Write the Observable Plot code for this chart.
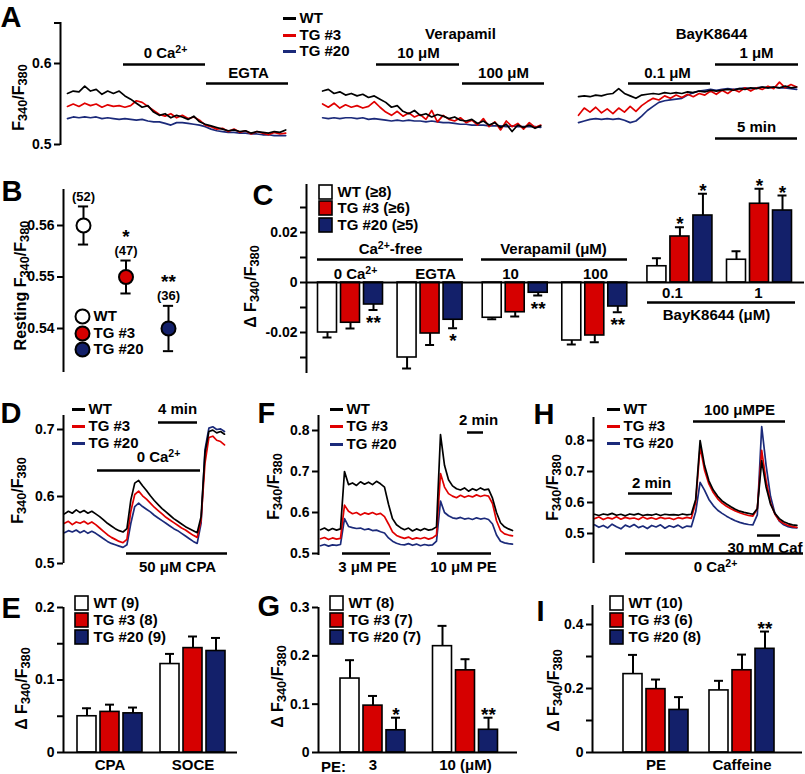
<!DOCTYPE html>
<html>
<head>
<meta charset="utf-8">
<script src="https://cdn.jsdelivr.net/npm/d3@7"></script>
<script src="https://cdn.jsdelivr.net/npm/@observablehq/plot@0.6"></script>
<style>
  html, body { margin: 0; padding: 0; background: #fff; }
  #fig { position: relative; width: 805px; height: 774px; overflow: hidden; background: #fff; }
  #fig svg { position: absolute; left: 0; top: 0; }
</style>
</head>
<body>
<div id="fig"></div>
<script>
// ======================= DATA =======================
const series = ["WT", "TG #3", "TG #20"];

// Panel A: resting F340/F380 traces, one sample every 0.35 min
const aStep = 0.35;
const aCaFreeWT   = [0.563,0.566,0.565,0.572,0.566,0.568,0.562,0.566,0.563,0.566, 0.560,0.556,0.551,0.546,0.548,0.540,0.536,0.538,0.533,0.536, 0.534,0.531,0.535,0.528,0.525,0.523,0.521,0.519,0.517,0.518, 0.516,0.517,0.514,0.516,0.515,0.514,0.516,0.515,0.518];
const aCaFreeTG3  = [0.547,0.550,0.547,0.551,0.548,0.550,0.546,0.549,0.547,0.548, 0.546,0.548,0.554,0.552,0.547,0.542,0.537,0.535,0.538,0.533, 0.536,0.532,0.534,0.530,0.524,0.522,0.519,0.520,0.516,0.519, 0.515,0.517,0.513,0.516,0.514,0.512,0.515,0.513,0.514];
const aCaFreeTG20 = [0.532,0.534,0.533,0.534,0.533,0.534,0.532,0.533,0.532,0.531, 0.532,0.531,0.530,0.531,0.529,0.528,0.528,0.526,0.524,0.527, 0.527,0.526,0.525,0.524,0.522,0.519,0.517,0.516,0.515,0.515, 0.514,0.514,0.513,0.513,0.512,0.512,0.511,0.511,0.511];
const aVerapWT    = [0.566,0.568,0.563,0.565,0.561,0.563,0.560,0.562,0.558,0.560, 0.556,0.552,0.546,0.548,0.541,0.538,0.542,0.536,0.538,0.534, 0.537,0.535,0.532,0.534,0.530,0.529,0.531,0.526,0.529,0.524, 0.527,0.521,0.525,0.516,0.524,0.521,0.524,0.520,0.523];
const aVerapTG3   = [0.550,0.546,0.551,0.545,0.549,0.546,0.548,0.545,0.547,0.553, 0.546,0.540,0.536,0.541,0.535,0.539,0.534,0.537,0.531,0.542, 0.528,0.536,0.531,0.529,0.533,0.527,0.530,0.524,0.532,0.522, 0.528,0.518,0.529,0.522,0.526,0.519,0.527,0.521,0.524];
const aVerapTG20  = [0.533,0.532,0.533,0.532,0.533,0.533,0.532,0.533,0.531,0.532, 0.531,0.530,0.529,0.530,0.529,0.530,0.529,0.529,0.528,0.529, 0.528,0.527,0.527,0.526,0.525,0.525,0.524,0.524,0.524,0.523, 0.523,0.523,0.522,0.523,0.522,0.522,0.522,0.522,0.521];
const aBayKWT     = [0.559,0.560,0.559,0.561,0.560,0.562,0.563,0.569,0.563,0.560, 0.557,0.561,0.562,0.563,0.562,0.564,0.563,0.564,0.563,0.565, 0.564,0.566,0.565,0.567,0.566,0.567,0.568,0.567,0.569,0.568, 0.570,0.569,0.571,0.570,0.571,0.570,0.572,0.570,0.571];
const aBayKTG3    = [0.536,0.545,0.540,0.546,0.539,0.544,0.538,0.545,0.540,0.547, 0.541,0.548,0.553,0.557,0.555,0.560,0.557,0.561,0.558,0.562, 0.559,0.563,0.561,0.566,0.562,0.567,0.563,0.568,0.565,0.570, 0.566,0.570,0.568,0.572,0.569,0.577,0.570,0.574,0.571];
const aBayKTG20   = [0.527,0.529,0.531,0.532,0.531,0.532,0.531,0.532,0.530,0.527, 0.529,0.535,0.542,0.547,0.552,0.554,0.555,0.556,0.557,0.561, 0.564,0.566,0.567,0.568,0.567,0.568,0.569,0.568,0.569,0.570, 0.569,0.570,0.571,0.570,0.571,0.570,0.570,0.569,0.568];

// Panel B: resting ratio, mean ± SEM
const bMean = [0.560, 0.550, 0.540];
const bSem  = [0.0037, 0.0032, 0.0044];
const bN    = ["(52)", "(47)", "(36)"];
const bSig  = ["", "*", "**"];

// Panel C: ΔF340/F380 by condition
const cConditions = ["0 Ca²⁺", "EGTA", "10", "100", "0.1", "1"];
const cWT      = [-0.0200, -0.0300, -0.0141, -0.0232, 0.0065, 0.0091];
const cWTsem   = [ 0.0020,  0.0044,  0.0006,  0.0016, 0.0032, 0.0034];
const cTG3     = [-0.0161, -0.0204, -0.0119, -0.0212, 0.0184, 0.0315];
const cTG3sem  = [ 0.0023,  0.0046,  0.0017,  0.0027, 0.0037, 0.0060];
const cTG20    = [-0.0088, -0.0149, -0.0041, -0.0096, 0.0268, 0.0288];
const cTG20sem = [ 0.0022,  0.0034,  0.0011,  0.0023, 0.0087, 0.0060];
const cTG3sig  = ["", "", "", "", "*", "*"];
const cTG20sig = ["**", "*", "**", "**", "*", "*"];

// Panel D: CPA / SOCE traces, one sample every 0.4 min
const dStep = 0.4;
const dWT   = [0.574,0.578,0.575,0.580,0.576,0.579,0.575,0.578,0.574,0.570,0.565,0.560,0.556,0.552,0.549,0.547,0.552,0.595,0.620,0.624,0.616,0.609,0.601,0.594,0.588,0.582,0.577,0.572,0.567,0.563,0.559,0.555,0.552,0.549,0.546,0.570,0.665,0.697,0.699,0.695,0.697,0.693];
const dTG3  = [0.560,0.563,0.558,0.562,0.560,0.563,0.559,0.562,0.558,0.553,0.548,0.543,0.539,0.536,0.533,0.531,0.536,0.578,0.603,0.608,0.601,0.596,0.590,0.584,0.579,0.574,0.569,0.565,0.561,0.557,0.553,0.550,0.546,0.542,0.539,0.565,0.650,0.688,0.690,0.684,0.682,0.677];
const dTG20 = [0.546,0.549,0.547,0.550,0.546,0.549,0.545,0.548,0.545,0.541,0.537,0.533,0.530,0.528,0.526,0.524,0.528,0.560,0.585,0.590,0.585,0.581,0.577,0.572,0.568,0.564,0.560,0.556,0.552,0.549,0.545,0.541,0.537,0.533,0.530,0.560,0.670,0.702,0.704,0.700,0.701,0.697];

// Panel E: ΔF340/F380 for CPA and SOCE
const eGroups  = ["CPA", "SOCE"];
const eWT      = [0.050, 0.122], eWTsem  = [0.011, 0.014];
const eTG3     = [0.056, 0.144], eTG3sem = [0.010, 0.016];
const eTG20    = [0.054, 0.140], eTG20sem= [0.008, 0.018];
const eLegend  = ["WT (9)", "TG #3 (8)", "TG #20 (9)"];

// Panel F: PE traces, one sample every 0.5 min
const fStep = 0.5;
const fWT   = [0.558,0.562,0.556,0.561,0.557,0.560, 0.700,0.668,0.672,0.666,0.675,0.669,0.674,0.668,0.676,0.670, 0.662,0.620,0.585,0.570,0.563, 0.558,0.562,0.555,0.560,0.556,0.561,0.557,0.559, 0.565, 0.790,0.715,0.680,0.665,0.658,0.655,0.660,0.652,0.658,0.654,0.660,0.655,0.657, 0.635,0.600,0.575,0.565,0.560,0.556];
const fTG3  = [0.536,0.539,0.534,0.538,0.535,0.537, 0.618,0.603,0.597,0.600,0.594,0.599,0.596,0.600,0.595,0.598, 0.590,0.572,0.553,0.544,0.540, 0.537,0.540,0.535,0.538,0.536,0.539,0.535,0.538, 0.545, 0.695,0.662,0.646,0.640,0.636,0.642,0.637,0.641,0.638,0.643,0.639,0.642,0.640, 0.622,0.580,0.556,0.548,0.545,0.543];
const fTG20 = [0.519,0.522,0.518,0.521,0.520,0.522, 0.585,0.566,0.563,0.561,0.562,0.558,0.560,0.556,0.557,0.553, 0.550,0.538,0.530,0.525,0.522, 0.521,0.524,0.520,0.523,0.519,0.522,0.520,0.521, 0.530, 0.628,0.600,0.592,0.587,0.585,0.588,0.584,0.586,0.583,0.587,0.584,0.586,0.583, 0.572,0.545,0.530,0.526,0.524,0.523];

// Panel G: ΔF340/F380 for PE 3 and 10 µM
const gGroups = ["3", "10 (μM)"];
const gWT   = [0.153, 0.220], gWTsem   = [0.038, 0.042];
const gTG3  = [0.097, 0.170], gTG3sem  = [0.020, 0.023];
const gTG20 = [0.046, 0.047], gTG20sem = [0.026, 0.025];
const gTG20sig = ["*", "**"];
const gLegend = ["WT (8)", "TG #3 (7)", "TG #20 (7)"];

// Panel H: PE / caffeine in 0 Ca2+, one sample every 0.2 min
const hStep = 0.2;
const hWT   = [0.562,0.558,0.563,0.560,0.565,0.559,0.562,0.557,0.563,0.560,0.564,0.558,0.561,0.559,0.563,0.558,0.562,0.560,0.561,0.559,0.563,0.560,0.562, 0.610, 0.800,0.720,0.670,0.640,0.620,0.605,0.595,0.586,0.578,0.572,0.568,0.565,0.562, 0.580, 0.735,0.650,0.595,0.565,0.548,0.538,0.532,0.528,0.526];
const hTG3  = [0.548,0.553,0.545,0.551,0.547,0.554,0.546,0.552,0.548,0.550,0.545,0.553,0.547,0.551,0.546,0.552,0.548,0.550,0.545,0.551,0.548,0.552,0.549, 0.600, 0.780,0.705,0.660,0.632,0.612,0.598,0.588,0.580,0.573,0.567,0.562,0.558,0.556, 0.580, 0.768,0.670,0.600,0.562,0.542,0.532,0.526,0.522,0.520];
const hTG20 = [0.528,0.520,0.526,0.518,0.530,0.522,0.515,0.527,0.521,0.529,0.519,0.524,0.516,0.526,0.521,0.528,0.517,0.525,0.520,0.527,0.518,0.524,0.522, 0.570, 0.665,0.640,0.610,0.590,0.575,0.565,0.556,0.548,0.541,0.536,0.532,0.529,0.528, 0.560, 0.845,0.720,0.620,0.565,0.540,0.528,0.522,0.519,0.518];

// Panel I: ΔF340/F380 for PE and caffeine
const iGroups = ["PE", "Caffeine"];
const iWT   = [0.245, 0.194], iWTsem   = [0.060, 0.030];
const iTG3  = [0.198, 0.257], iTG3sem  = [0.030, 0.049];
const iTG20 = [0.133, 0.324], iTG20sem = [0.040, 0.054];
const iTG20sig = ["", "**"];
const iLegend = ["WT (10)", "TG #3 (6)", "TG #20 (8)"];

// ======================= STYLE / LAYOUT =======================
const W = 805, H = 774;
const FONT = "'Liberation Sans', Arial, Helvetica, sans-serif";
const STYLE = {background: "transparent", fontFamily: FONT, fontWeight: "bold", fontSize: "14px", color: "#000", overflow: "visible"};
const INK = "#000";
const LINES = ["#000000", "#e00000", "#1b2a7a"];
const FILLS = ["#ffffff", "#d60000", "#13206a"];

// axis frames (page pixels)
const FR = {
  A: {l: 60,  t: 22,  r: 797, b: 145},
  B: {l: 63,  t: 189, r: 190, b: 372},
  C: {l: 306, t: 184, r: 804, b: 373},
  D: {l: 63,  t: 415, r: 230, b: 563},
  F: {l: 318, t: 415, r: 517, b: 555},
  H: {l: 593, t: 417, r: 800, b: 563},
  E: {l: 63,  t: 607, r: 237, b: 752},
  G: {l: 318, t: 607, r: 517, b: 752},
  I: {l: 592, t: 605, r: 802, b: 752}
};

function panel(f, x, y, marks) {
  return Plot.plot({
    width: W, height: H,
    marginLeft: f.l, marginTop: f.t, marginRight: W - f.r, marginBottom: H - f.b,
    x, y, color: {type: "identity"}, marks, style: STYLE
  });
}
const fmt = d => d === 0 ? "0" : String(+d.toFixed(4));
function yAxis(major, minor = []) {
  const m = [Plot.axisY(major, {tickSize: 6, tickPadding: 3, strokeWidth: 2, tickFormat: fmt, label: null, fontSize: 14})];
  if (minor.length) m.push(Plot.axisY(minor, {tickSize: 6, strokeWidth: 2, tickFormat: () => "", label: null}));
  return m;
}
function trace(vals, step, offset, color) {
  return Plot.line(vals.map((v, i) => ({t: offset + i * step, v})),
    {x: "t", y: "v", stroke: color, strokeWidth: 1.7, strokeLinejoin: "round"});
}
function bars(means, sems, sigs, gpos, pxPerUnit, geom) {
  const step = geom.step / pxPerUnit, w = geom.width / pxPerUnit, cap = geom.cap / pxPerUnit;
  const rows = [];
  means.forEach((arr, s) => arr.forEach((v, i) => {
    const xc = gpos(i) + (s - 1) * step, sign = v >= 0 ? 1 : -1;
    rows.push({xc, v, end: v + sign * sems[s][i], sign, fill: FILLS[s], sig: sigs[s][i]});
  }));
  return [
    Plot.ruleX(rows, {x: "xc", y1: "v", y2: "end", stroke: INK, strokeWidth: 2}),
    Plot.ruleY(rows, {y: "end", x1: d => d.xc - cap / 2, x2: d => d.xc + cap / 2, stroke: INK, strokeWidth: 2}),
    Plot.rectY(rows, {x1: d => d.xc - w / 2, x2: d => d.xc + w / 2, y1: 0, y2: "v", fill: "fill", stroke: INK, strokeWidth: 1.6}),
    Plot.text(rows.filter(d => d.sig && d.sign > 0), {x: "xc", y: "end", text: "sig", dy: -3, fontSize: 19}),
    Plot.text(rows.filter(d => d.sig && d.sign < 0), {x: "xc", y: "end", text: "sig", dy: 13, fontSize: 19})
  ];
}
const none = ["", "", "", "", "", ""];

// ---------- Panel A ----------
const aOffsets = [0, 15.55, 31.15];
const aSegs = [[aCaFreeWT, aCaFreeTG3, aCaFreeTG20], [aVerapWT, aVerapTG3, aVerapTG20], [aBayKWT, aBayKTG3, aBayKTG20]];
const plotA = panel(FR.A,
  {domain: [0, 44.5], range: [67, 797], axis: null},
  {domain: [0.5, 0.6], range: [144, 63]},
  [
    ...yAxis([0.5, 0.6], [0.65]),
    ...aSegs.flatMap((seg, k) => [2, 1, 0].map(s => trace(seg[s], aStep, aOffsets[k], LINES[s])))
  ]);

// ---------- Panel B ----------
const bRows = bMean.map((m, i) => ({i, m, lo: m - bSem[i], hi: m + bSem[i], n: bN[i], sig: bSig[i], fill: FILLS[i]}));
const plotB = panel(FR.B,
  {domain: [0, 2], range: [83, 168], axis: null},
  {domain: [0.54, 0.56], range: [328, 225]},
  [
    ...yAxis([0.54, 0.55, 0.56]),
    Plot.ruleX(bRows, {x: "i", y1: "lo", y2: "hi", stroke: INK, strokeWidth: 2}),
    Plot.ruleY(bRows, {y: "lo", x1: d => d.i - 0.12, x2: d => d.i + 0.12, stroke: INK, strokeWidth: 2}),
    Plot.ruleY(bRows, {y: "hi", x1: d => d.i - 0.12, x2: d => d.i + 0.12, stroke: INK, strokeWidth: 2}),
    Plot.dot(bRows, {x: "i", y: "m", r: 7, fill: "fill", stroke: INK, strokeWidth: 2}),
    Plot.text(bRows, {x: "i", y: "hi", text: "n", dy: -10, fontSize: 13}),
    Plot.text(bRows.filter(d => d.sig), {x: "i", y: "hi", text: "sig", dy: -24, fontSize: 19})
  ]);

// ---------- Panel C ----------
const cGpos = i => i + Math.floor(i / 2) * 0.07;
const cPx = (759 - 350) / 5.14;
const plotC = panel(FR.C,
  {domain: [0, 5.14], range: [350, 759], axis: null},
  {domain: [0, 0.02], range: [282, 232]},
  [
    ...yAxis([-0.02, 0, 0.02], [-0.03, -0.01, 0.01, 0.03]),
    ...bars([cWT, cTG3, cTG20], [cWTsem, cTG3sem, cTG20sem], [none, cTG3sig, cTG20sig], cGpos, cPx, {step: 23, width: 19, cap: 9}),
    Plot.ruleY([0], {stroke: INK, strokeWidth: 2})
  ]);

// ---------- Panels D, F, H (traces) ----------
const plotD = panel(FR.D,
  {domain: [0, 16.4], range: [64, 224], axis: null},
  {domain: [0.5, 0.7], range: [563, 429]},
  [...yAxis([0.5, 0.6, 0.7]), ...[[dTG20, 2], [dTG3, 1], [dWT, 0]].map(([v, s]) => trace(v, dStep, 0, LINES[s]))]);
const plotF = panel(FR.F,
  {domain: [0, 24], range: [320, 512], axis: null},
  {domain: [0.5, 0.8], range: [553, 430]},
  [...yAxis([0.5, 0.6, 0.7, 0.8]), ...[[fTG20, 2], [fTG3, 1], [fWT, 0]].map(([v, s]) => trace(v, fStep, 0, LINES[s]))]);
const plotH = panel(FR.H,
  {domain: [0, 9.2], range: [594, 796.4], axis: null},
  {domain: [0.5, 0.8], range: [533, 440]},
  [...yAxis([0.5, 0.6, 0.7, 0.8]), ...[[hTG20, 2], [hTG3, 1], [hWT, 0]].map(([v, s]) => trace(v, hStep, 0, LINES[s]))]);

// ---------- Panels E, G, I (bars) ----------
function barPanel(f, xr, yDom, yRng, groups, means, sems, sigs, major, minor) {
  return panel(f, {domain: [0, 1], range: xr}, {domain: yDom, range: yRng}, [
    ...yAxis(major, minor),
    Plot.axisX([0, 1], {tickSize: 0, tickPadding: 7, tickFormat: i => groups[i], label: null, fontSize: 15}),
    ...bars(means, sems, sigs, i => i, xr[1] - xr[0], {step: 23, width: 19, cap: 9}),
    Plot.ruleY([0], {stroke: INK, strokeWidth: 2})
  ]);
}
const plotE = barPanel(FR.E, [109.5, 192.5], [0, 0.2], [752, 607], eGroups,
  [eWT, eTG3, eTG20], [eWTsem, eTG3sem, eTG20sem], [none, none, none], [0, 0.1, 0.2], [0.05, 0.15]);
const plotG = barPanel(FR.G, [372.5, 465], [0, 0.3], [752, 607], gGroups,
  [gWT, gTG3, gTG20], [gWTsem, gTG3sem, gTG20sem], [none, none, gTG20sig], [0, 0.1, 0.2, 0.3], []);
const plotI = barPanel(FR.I, [655.5, 741.5], [0, 0.4], [752, 624], iGroups,
  [iWT, iTG3, iTG20], [iWTsem, iTG3sem, iTG20sem], [none, none, iTG20sig], [0, 0.2, 0.4], [0.1, 0.3]);

// ---------- Annotation overlay (page pixel coordinates) ----------
const letters = [
  {x: 0, y: 6, t: "A"}, {x: 1, y: 180, t: "B"}, {x: 252, y: 184, t: "C"},
  {x: 0, y: 402, t: "D"}, {x: 257, y: 402, t: "F"}, {x: 533, y: 403, t: "H"},
  {x: 1, y: 597, t: "E"}, {x: 257, y: 595, t: "G"}, {x: 536, y: 600, t: "I"}
];
const yLabels = [
  {x: 18, y: 97, t: "F_{340}/F_{380}"}, {x: 20, y: 285, t: "Resting F_{340}/F_{380}"},
  {x: 250, y: 286, t: "Δ F_{340}/F_{380}"}, {x: 17, y: 490, t: "F_{340}/F_{380}"},
  {x: 273, y: 486, t: "F_{340}/F_{380}"}, {x: 552, y: 487, t: "F_{340}/F_{380}"},
  {x: 21, y: 688, t: "Δ F_{340}/F_{380}"}, {x: 277, y: 686, t: "Δ F_{340}/F_{380}"},
  {x: 553, y: 690, t: "Δ F_{340}/F_{380}"}
];
const centerLabels = [
  {x: 165, y: 53, t: "0 Ca^{2+}"}, {x: 248, y: 73, t: "EGTA"}, {x: 460, y: 34, t: "Verapamil"},
  {x: 418, y: 53, t: "10 μM"}, {x: 503, y: 73, t: "100 μM"}, {x: 711, y: 34, t: "BayK8644"},
  {x: 667, y: 73, t: "0.1 μM"}, {x: 756, y: 53, t: "1 μM"}, {x: 756, y: 127, t: "5 min"},
  {x: 390, y: 249, t: "Ca^{2+}-free"}, {x: 355, y: 274, t: "0 Ca^{2+}"}, {x: 435, y: 274, t: "EGTA"},
  {x: 553, y: 249, t: "Verapamil (μM)"}, {x: 510, y: 274, t: "10"}, {x: 595, y: 274, t: "100"},
  {x: 672, y: 293, t: "0.1"}, {x: 758, y: 293, t: "1"}, {x: 716, y: 315, t: "BayK8644 (μM)"},
  {x: 177, y: 409, t: "4 min"}, {x: 158, y: 457, t: "0 Ca^{2+}"}, {x: 177, y: 567, t: "50 μM CPA"},
  {x: 478, y: 420, t: "2 min"}, {x: 367, y: 567, t: "3 μM PE"}, {x: 463, y: 567, t: "10 μM PE"},
  {x: 739, y: 410, t: "100 μMPE"}, {x: 651, y: 483, t: "2 min"},
  {x: 715, y: 567, t: "0 Ca^{2+}"}, {x: 333, y: 767, t: "PE:"}
];
const endLabels = [{x: 802, y: 548, t: "30 mM Caf"}];
const stimBars = [
  {y: 64, x1: 123, x2: 205}, {y: 83, x1: 206, x2: 288}, {y: 64, x1: 376, x2: 459}, {y: 83, x1: 462, x2: 544},
  {y: 83, x1: 628, x2: 710}, {y: 64, x1: 715, x2: 798}, {y: 138, x1: 715, x2: 797},
  {y: 259, x1: 317, x2: 463}, {y: 259, x1: 481, x2: 627}, {y: 302, x1: 647, x2: 795},
  {y: 422, x1: 158, x2: 197}, {y: 470, x1: 97, x2: 200}, {y: 553, x1: 126, x2: 227},
  {y: 432, x1: 467, x2: 483}, {y: 553, x1: 342, x2: 390}, {y: 553, x1: 437, x2: 491},
  {y: 421, x1: 693, x2: 785}, {y: 493, x1: 628, x2: 672}, {y: 535, x1: 757, x2: 780}, {y: 553, x1: 625, x2: 803}
];
// legends
const lineLegendAnchors = [{x: 283, ys: [18, 35, 51]}, {x: 72, ys: [409, 426, 443]}, {x: 330, ys: [409, 426, 444]}, {x: 607, ys: [409, 426, 443]}];
const lineLegend = lineLegendAnchors.flatMap(a => a.ys.map((y, s) => ({x1: a.x, x2: a.x + 13, y, c: LINES[s], tx: a.x + 16, t: series[s]})));
const boxLegendAnchors = [
  {x: 319, ys: [192, 208, 225], labels: ["WT (≥8)", "TG #3 (≥6)", "TG #20 (≥5)"]},
  {x: 75, ys: [603, 620, 637], labels: eLegend},
  {x: 330, ys: [603, 620, 637], labels: gLegend},
  {x: 610, ys: [603, 620, 637], labels: iLegend}
];
const boxLegend = boxLegendAnchors.flatMap(a => a.ys.map((y, s) => ({x1: a.x, x2: a.x + 13, y1: y - 7, y2: y + 7, y, c: FILLS[s], tx: a.x + 18, t: a.labels[s]})));
const dotLegend = [316, 333, 349].map((y, s) => ({x: 82, y, c: FILLS[s], tx: 93, t: series[s]}));
const spines = Object.values(FR);

const overlay = Plot.plot({
  width: W, height: H, margin: 0,
  x: {type: "identity", axis: null}, y: {type: "identity", axis: null}, color: {type: "identity"},
  style: STYLE,
  marks: [
    Plot.ruleX(spines, {x: "l", y1: "t", y2: "b", stroke: INK, strokeWidth: 2}),
    Plot.ruleY(stimBars, {y: "y", x1: "x1", x2: "x2", stroke: INK, strokeWidth: 2.5}),
    Plot.ruleY(lineLegend, {y: "y", x1: "x1", x2: "x2", stroke: "c", strokeWidth: 3}),
    Plot.text(lineLegend, {x: "tx", y: "y", text: "t", textAnchor: "start", fontSize: 15}),
    Plot.rect(boxLegend, {x1: "x1", x2: "x2", y1: "y1", y2: "y2", fill: "c", stroke: INK, strokeWidth: 1.6}),
    Plot.text(boxLegend, {x: "tx", y: "y", text: "t", textAnchor: "start", fontSize: 15}),
    Plot.dot(dotLegend, {x: "x", y: "y", r: 7, fill: "c", stroke: INK, strokeWidth: 2}),
    Plot.text(dotLegend, {x: "tx", y: "y", text: "t", textAnchor: "start", fontSize: 15}),
    Plot.text(centerLabels, {x: "x", y: "y", text: "t", fontSize: 15}),
    Plot.text(endLabels, {x: "x", y: "y", text: "t", textAnchor: "end", fontSize: 15}),
    Plot.text(yLabels, {x: "x", y: "y", text: "t", rotate: -90, fontSize: 16}),
    Plot.text(letters, {x: "x", y: "y", text: "t", textAnchor: "start", lineAnchor: "top", fontSize: 29})
  ]
});

const fig = document.getElementById("fig");
[plotA, plotB, plotC, plotD, plotF, plotH, plotE, plotG, plotI, overlay].forEach(p => fig.appendChild(p));

// render _{sub} and ^{sup} as real sub/superscript tspans
function richify(root) {
  const NS = "http://www.w3.org/2000/svg";
  root.querySelectorAll("text").forEach(t => {
    const s = t.textContent;
    if (!/[_^]\{/.test(s)) return;
    const fs = parseFloat(getComputedStyle(t).fontSize) || 14;
    while (t.firstChild) t.removeChild(t.firstChild);
    const re = /([_^])\{([^}]*)\}/g;
    let last = 0, m, pending = 0;
    const span = (str, size, dy) => {
      const sp = document.createElementNS(NS, "tspan");
      sp.textContent = str;
      if (size) sp.setAttribute("font-size", size);
      if (dy) sp.setAttribute("dy", dy);
      t.appendChild(sp);
    };
    while ((m = re.exec(s))) {
      if (m.index > last) { span(s.slice(last, m.index), null, pending); pending = 0; }
      const sh = m[1] === "_" ? 0.22 * fs : -0.38 * fs;
      span(m[2], (m[1] === "_" ? 0.8 : 0.7) * fs, sh + pending);
      pending = -sh;
      last = re.lastIndex;
    }
    if (last < s.length) span(s.slice(last), null, pending);
  });
}
richify(fig);
</script>
</body>
</html>
